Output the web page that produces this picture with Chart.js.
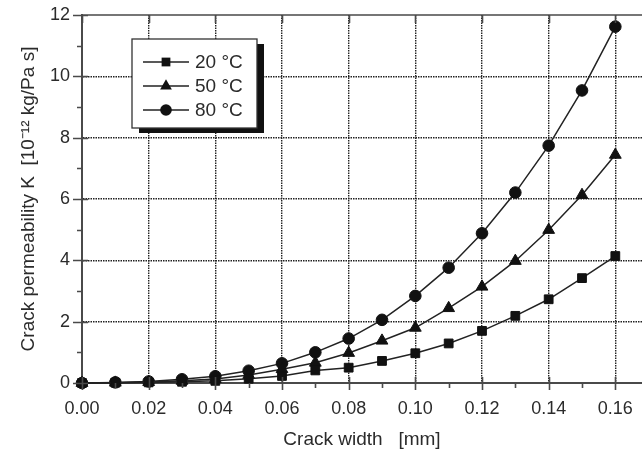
<!DOCTYPE html>
<html><head><meta charset="utf-8">
<script src="https://cdn.jsdelivr.net/npm/chart.js@4.4.1/dist/chart.umd.min.js"></script>
<style>html,body{margin:0;padding:0;background:#fff;overflow:hidden}#wrap{width:642px;height:455px;position:relative}</style>
</head><body><div id="wrap"><canvas id="c" width="642" height="455"></canvas></div>
<script>
// ---- data ----
const crackWidth = [0.00,0.01,0.02,0.03,0.04,0.05,0.06,0.07,0.08,0.09,0.10,0.11,0.12,0.13,0.14,0.15,0.16];
const k20 = [0, 0.01, 0.02, 0.04, 0.07, 0.14, 0.23, 0.41, 0.50, 0.72, 0.97, 1.29, 1.70, 2.19, 2.73, 3.42, 4.14];
const k50 = [0, 0.01, 0.03, 0.07, 0.13, 0.26, 0.45, 0.66, 0.98, 1.38, 1.80, 2.44, 3.14, 3.98, 4.99, 6.13, 7.44];
const k80 = [0, 0.02, 0.05, 0.12, 0.22, 0.40, 0.64, 1.00, 1.45, 2.06, 2.84, 3.76, 4.88, 6.21, 7.74, 9.54, 11.62];
const seriesLabels = ['20 °C', '50 °C', '80 °C'];
const xTickLabels = ['0.00','0.02','0.04','0.06','0.08','0.10','0.12','0.14','0.16'];
const yTickLabels = ['0','2','4','6','8','10','12'];
const xTitle = 'Crack width   [mm]';
const yTitle = 'Crack permeability K  [10\u207B\u00B9\u00B2 kg/Pa s]';

const FONT = '"Liberation Sans", Arial, Helvetica, sans-serif';
const TXT = '#2b2b2b';
const AX = '#4a4a4a';

const xMajor = v => xTickLabels.includes(v.toFixed(2));
const yMajor = v => yTickLabels.includes(String(Math.round(v)));

const styles = ['rect', 'triangle', 'circle'];
const radii = [6.2, 6.8, 5.8];
const series = [k20, k50, k80];

const datasets = series.map((vals, i) => ({
  label: seriesLabels[i],
  data: crackWidth.map((x, j) => ({x, y: vals[j]})),
  borderColor: '#222',
  backgroundColor: '#111',
  borderWidth: 1.5,
  pointStyle: styles[i],
  pointRadius: radii[i],
  pointBorderWidth: 1,
  pointBorderColor: '#111',
  pointBackgroundColor: '#111',
  tension: 0,
  clip: 10
}));

function drawMarker(ctx, style, cx, cy, r) {
  ctx.beginPath();
  if (style === 'rect') {
    const s = r / Math.SQRT2;
    ctx.rect(cx - s, cy - s, 2 * s, 2 * s);
  } else if (style === 'triangle') {
    ctx.moveTo(cx, cy - r);
    ctx.lineTo(cx + r * Math.sin(Math.PI / 3), cy + r / 2);
    ctx.lineTo(cx - r * Math.sin(Math.PI / 3), cy + r / 2);
    ctx.closePath();
  } else {
    ctx.arc(cx, cy, r, 0, Math.PI * 2);
  }
  ctx.fill();
}

const framePlugin = {
  id: 'frame',
  afterDatasetsDraw(chart) {
    const {ctx, chartArea: a, scales: {x, y}} = chart;
    ctx.save();
    ctx.strokeStyle = AX;
    ctx.lineWidth = 1.6;
    ctx.beginPath();
    ctx.moveTo(a.left - 1, a.top); ctx.lineTo(a.right + 2, a.top);
    x.ticks.forEach(t => {
      const px = Math.round(x.getPixelForValue(t.value)) + 0.5;
      if (xMajor(t.value)) {
        ctx.moveTo(px, a.bottom + 7); ctx.lineTo(px, a.bottom - 6);
        ctx.moveTo(px, a.top); ctx.lineTo(px, a.top + 8);
      } else {
        ctx.moveTo(px, a.bottom + 5); ctx.lineTo(px, a.bottom);
      }
    });
    y.ticks.forEach(t => {
      const py = Math.round(y.getPixelForValue(t.value)) + 0.5;
      if (yMajor(t.value)) {
        ctx.moveTo(a.left - 9, py); ctx.lineTo(a.left + 6, py);
      } else {
        ctx.moveTo(a.left - 5, py); ctx.lineTo(a.left, py);
      }
    });
    ctx.stroke();

    // legend
    const lx = a.left + 50, ly = a.top + 24, lw = 125, lh = 89;
    ctx.fillStyle = '#111';
    ctx.fillRect(lx + 7, ly + 5, lw, lh);
    ctx.fillStyle = '#fff';
    ctx.fillRect(lx, ly, lw, lh);
    ctx.strokeStyle = '#333';
    ctx.lineWidth = 1.3;
    ctx.strokeRect(lx, ly, lw, lh);
    chart.data.datasets.forEach((ds, i) => {
      const ry = ly + 23 + i * 24;
      ctx.strokeStyle = '#222';
      ctx.lineWidth = 1.5;
      ctx.beginPath();
      ctx.moveTo(lx + 11, ry); ctx.lineTo(lx + 57, ry);
      ctx.stroke();
      ctx.fillStyle = '#111';
      drawMarker(ctx, ds.pointStyle, lx + 34, ry, ds.pointRadius);
      ctx.fillStyle = TXT;
      ctx.font = '19px ' + FONT;
      ctx.textBaseline = 'middle';
      ctx.textAlign = 'left';
      ctx.fillText(ds.label, lx + 63, ry + 1);
    });
    ctx.restore();
  }
};

new Chart(document.getElementById('c'), {
  type: 'line',
  data: {datasets},
  options: {
    responsive: false,
    animation: false,
    devicePixelRatio: 1,
    layout: {autoPadding: false, padding: {top: 15, right: 0, bottom: 0, left: 0}},
    plugins: {legend: {display: false}, tooltip: {enabled: false}},
    scales: {
      x: {
        type: 'linear', min: 0, max: 0.168,
        afterBuildTicks: s => { s.ticks = crackWidth.map(v => ({value: v})); },
        afterFit: s => { s.height = 72; s.paddingLeft = 0; s.paddingRight = 0; },
        border: {display: true, color: AX, width: 2, dash: [1.5, 1]},
        grid: {
          drawTicks: false,
          color: c => (c.tick && xMajor(c.tick.value) && c.tick.value > 0) ? '#222' : 'rgba(0,0,0,0)',
          lineWidth: 1.4,
        },
        ticks: {
          autoSkip: false, maxRotation: 0, padding: 15,
          color: TXT, font: {family: FONT, size: 18},
          callback: v => xMajor(v) ? v.toFixed(2) : ''
        },
        title: {display: true, text: xTitle, color: TXT, font: {family: FONT, size: 19}, padding: {top: 0, bottom: 4}}
      },
      y: {
        type: 'linear', min: 0, max: 12,
        afterBuildTicks: s => { s.ticks = Array.from({length: 13}, (_, i) => ({value: i})); },
        afterFit: s => { s.width = 82; s.paddingTop = 0; s.paddingBottom = 0; },
        border: {display: true, color: AX, width: 2, dash: [1.5, 1]},
        grid: {
          drawTicks: false,
          color: c => (c.tick && yMajor(c.tick.value) && c.tick.value > 0 && c.tick.value < 12) ? '#222' : 'rgba(0,0,0,0)',
          lineWidth: 1.4,
        },
        ticks: {
          autoSkip: false, padding: 12,
          color: TXT, font: {family: FONT, size: 18},
          callback: v => yMajor(v) ? String(Math.round(v)) : ''
        },
        title: {display: true, text: yTitle, color: TXT, font: {family: FONT, size: 19}, padding: {top: 17, bottom: 0}}
      }
    }
  },
  plugins: [framePlugin]
});
</script>
</body></html>
